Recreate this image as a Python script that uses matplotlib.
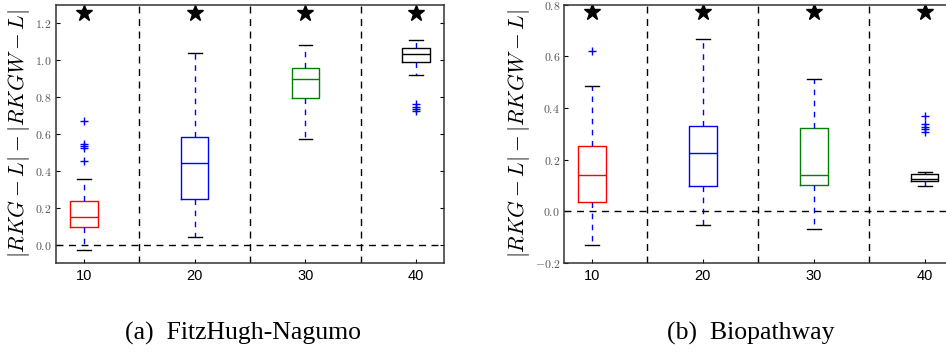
import numpy as np
import matplotlib
matplotlib.use("Agg")
import matplotlib.pyplot as plt
from matplotlib.ticker import FuncFormatter

plt.rcParams['mathtext.fontset'] = 'cm'

# Data
positions = [10, 20, 30, 40]
separators = [15, 25, 35]
box_colors = ['r', 'b', 'g', 'k']

# (a) FitzHugh-Nagumo
fhn_q1 = [0.094, 0.249, 0.796, 0.988]
fhn_med = [0.148, 0.444, 0.899, 1.032]
fhn_q3 = [0.235, 0.581, 0.958, 1.063]
fhn_lo = [-0.032, 0.043, 0.574, 0.919]
fhn_hi = [0.354, 1.036, 1.081, 1.110]
fhn_fliers = [[0.667, 0.545, 0.535, 0.525, 0.455], [], [], [0.760, 0.747, 0.735, 0.724]]
fhn_star = 1.255

# (b) Biopathway
bio_q1 = [0.036, 0.098, 0.101, 0.117]
bio_med = [0.141, 0.225, 0.141, 0.126]
bio_q3 = [0.254, 0.331, 0.321, 0.144]
bio_lo = [-0.132, -0.052, -0.068, 0.098]
bio_hi = [0.484, 0.668, 0.511, 0.153]
bio_fliers = [[0.622], [], [], [0.370, 0.338, 0.328, 0.318, 0.306]]
bio_star = 0.77

ylabel = r'$|RKG-L|-|RKGW-L|$'


def make_stats(q1, med, q3, lo, hi, fl):
    return [dict(q1=a, med=m, q3=b, whislo=l, whishi=h, fliers=f)
            for a, m, b, l, h, f in zip(q1, med, q3, lo, hi, fl)]


def draw_panel(ax, stats, star_y, ylim, yticks):
    bp = ax.bxp(stats, positions=positions, widths=2.5, patch_artist=False,
                whiskerprops=dict(color='b', linestyle=(0, (4, 4)), linewidth=1),
                capprops=dict(color='k', linewidth=1),
                flierprops=dict(marker='+', markeredgecolor='b', markersize=6,
                                linestyle='none'))
    for box, med, c in zip(bp['boxes'], bp['medians'], box_colors):
        box.set_color(c)
        box.set_linewidth(1)
        med.set_color(c)
        med.set_linewidth(1)
    for x in separators:
        ax.axvline(x, color='k', linestyle=(0, (5, 4)), linewidth=1)
    ax.axhline(0, color='k', linestyle=(0, (5, 4)), linewidth=1)
    ax.plot(positions, [star_y] * len(positions), linestyle='none',
            marker='*', color='k', markersize=12)
    ax.set_xlim(7.5, 42.5)
    ax.set_ylim(*ylim)
    ax.set_yticks(yticks)
    ax.set_xticks(positions)
    ax.set_xticklabels([str(p) for p in positions], fontsize=10.5,
                       fontfamily='Liberation Sans')
    ax.yaxis.set_major_formatter(FuncFormatter(lambda v, p: r'$%.1f$' % v))
    ax.tick_params(axis='y', labelsize=8.5, labelcolor='#555555', pad=3)
    ax.tick_params(direction='in', length=3, top=True, right=True, width=0.8)
    ax.tick_params(axis='x', pad=4)
    for s in ax.spines.values():
        s.set_linewidth(1.1)
        s.set_color('#333333')
    ax.set_ylabel(ylabel, fontsize=15.5, labelpad=2)


fig = plt.figure(figsize=(9.46, 3.56), dpi=100)
W, H = 946.0, 356.0
ax1 = fig.add_axes([56 / W, 1 - 263 / H, 388 / W, 258.3 / H])
ax2 = fig.add_axes([564.3 / W, 1 - 263 / H, 388 / W, 258.3 / H])

draw_panel(ax1, make_stats(fhn_q1, fhn_med, fhn_q3, fhn_lo, fhn_hi, fhn_fliers),
           fhn_star, (-0.1, 1.3), np.arange(0, 1.21, 0.2))
draw_panel(ax2, make_stats(bio_q1, bio_med, bio_q3, bio_lo, bio_hi, bio_fliers),
           bio_star, (-0.2, 0.8), np.arange(-0.2, 0.81, 0.2))

fig.text(242.5 / W, 1 - 333 / H, '(a)  FitzHugh-Nagumo', ha='center', va='center',
         fontsize=18.5, fontfamily='Liberation Serif')
fig.text(751 / W, 1 - 333 / H, '(b)  Biopathway', ha='center', va='center',
         fontsize=18.5, fontfamily='Liberation Serif')

fig.savefig('out.png', dpi=100)
